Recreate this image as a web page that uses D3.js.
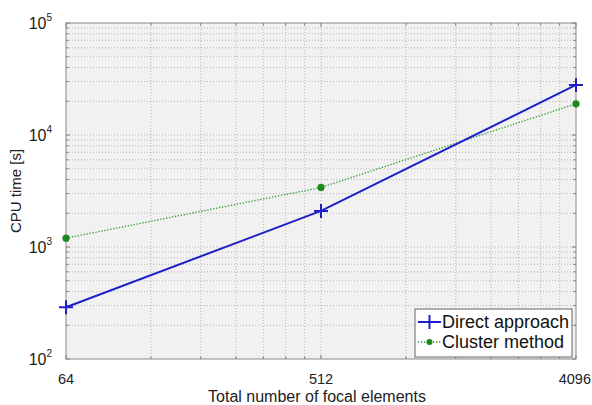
<!DOCTYPE html>
<html><head><meta charset="utf-8">
<script src="https://cdn.jsdelivr.net/npm/d3@7"></script>
<style>body{margin:0;background:#fff}svg{display:block}</style>
</head><body><svg id="c" width="592" height="405"></svg>
<script>
const xValues = [64, 512, 4096];
const directValues = [290, 2100, 28000];
const clusterValues = [1200, 3400, 19000];
const xTickLabels = ["64", "512", "4096"];
const yTickExps = [2, 3, 4, 5];
const seriesNames = ["Direct approach", "Cluster method"];

const svg = d3.select("#c");
const L = 66, R = 576, T = 23, B = 359;
const x = d3.scaleLog().base(2).domain([64, 4096]).range([L, R]);
const y = d3.scaleLog().domain([100, 100000]).range([B, T]);
const font = "Liberation Sans, Arial, sans-serif";

svg.append("rect").attr("x", L).attr("y", T).attr("width", R - L).attr("height", B - T).attr("fill", "#f1f1f1");

const xGrid = [];
[64, 512].forEach(m => { for (let k = 2; k <= 7; k++) xGrid.push(m * k); });
const xMajor = xValues;
const yMinor = [];
for (let e = 2; e < 5; e++) for (let k = 2; k <= 9; k++) yMinor.push(k * Math.pow(10, e));
const yMajor = yTickExps.map(e => Math.pow(10, e));

const g = svg.append("g");
xGrid.concat(xMajor.slice(1, -1)).forEach(v => {
  g.append("line").attr("x1", x(v)).attr("x2", x(v)).attr("y1", T).attr("y2", B)
    .attr("stroke", "#a8a8a8").attr("stroke-width", 0.8).attr("stroke-dasharray", "1,2");
});
yMinor.concat(yMajor.slice(1, -1)).forEach(v => {
  g.append("line").attr("x1", L).attr("x2", R).attr("y1", y(v)).attr("y2", y(v))
    .attr("stroke", "#a8a8a8").attr("stroke-width", 0.8).attr("stroke-dasharray", "1,2");
});
xGrid.concat(xMajor).forEach(v => {
  const len = xMajor.includes(v) ? 4 : 2.5;
  g.append("line").attr("x1", x(v)).attr("x2", x(v)).attr("y1", B).attr("y2", B - len).attr("stroke", "#777");
  g.append("line").attr("x1", x(v)).attr("x2", x(v)).attr("y1", T).attr("y2", T + len).attr("stroke", "#777");
});
yMinor.concat(yMajor).forEach(v => {
  const len = yMajor.includes(v) ? 4 : 2.5;
  g.append("line").attr("x1", L).attr("x2", L + len).attr("y1", y(v)).attr("y2", y(v)).attr("stroke", "#777");
  g.append("line").attr("x1", R).attr("x2", R - len).attr("y1", y(v)).attr("y2", y(v)).attr("stroke", "#777");
});
svg.append("rect").attr("x", L).attr("y", T).attr("width", R - L).attr("height", B - T)
  .attr("fill", "none").attr("stroke", "#8a8a8a").attr("stroke-width", 1);

xValues.forEach((v, i) => {
  const last = i === xValues.length - 1;
  svg.append("text").attr("x", last ? 591 : x(v)).attr("y", 384).attr("text-anchor", last ? "end" : "middle")
    .attr("font-family", font).attr("font-size", 14.5).attr("fill", "#222").text(xTickLabels[i]);
});
yTickExps.forEach(e => {
  const t = svg.append("text").attr("x", 52).attr("y", y(Math.pow(10, e)) + 6).attr("text-anchor", "end")
    .attr("font-family", font).attr("font-size", 16).attr("fill", "#222");
  t.append("tspan").text("10");
  t.append("tspan").attr("dy", -8).attr("font-size", 10).text(String(e));
});

svg.append("text").attr("x", 317).attr("y", 402).attr("text-anchor", "middle")
  .attr("font-family", font).attr("font-size", 16).attr("fill", "#222").text("Total number of focal elements");
svg.append("text").attr("transform", "translate(21,191) rotate(-90)").attr("text-anchor", "middle")
  .attr("font-family", font).attr("font-size", 15).attr("fill", "#222").text("CPU time [s]");

const line = d3.line().x(d => x(d[0])).y(d => y(d[1]));
const blue = "#1f1fc8", green = "#2a9a2a";
const cData = xValues.map((v, i) => [v, clusterValues[i]]);
const dData = xValues.map((v, i) => [v, directValues[i]]);
svg.append("path").attr("d", line(cData)).attr("fill", "none").attr("stroke", green)
  .attr("stroke-width", 1.3).attr("stroke-dasharray", "1.3,1.7");
cData.forEach(d => svg.append("circle").attr("cx", x(d[0])).attr("cy", y(d[1])).attr("r", 3.6).attr("fill", "#1a8a1a"));
svg.append("path").attr("d", line(dData)).attr("fill", "none").attr("stroke", blue).attr("stroke-width", 2);
function plus(px, py, s) {
  svg.append("path").attr("d", `M${px - s},${py}H${px + s}M${px},${py - s}V${py + s}`)
    .attr("stroke", blue).attr("stroke-width", 2).attr("fill", "none");
}
dData.forEach(d => plus(x(d[0]), y(d[1]), 7));

const lg = svg.append("g");
lg.append("rect").attr("x", 415).attr("y", 309).attr("width", 157).attr("height", 48)
  .attr("fill", "#fff").attr("stroke", "#666").attr("stroke-width", 1);
lg.append("line").attr("x1", 418).attr("x2", 441).attr("y1", 322).attr("y2", 322).attr("stroke", blue).attr("stroke-width", 2);
plus(429.5, 322, 7);
lg.append("line").attr("x1", 418).attr("x2", 441).attr("y1", 342).attr("y2", 342).attr("stroke", green)
  .attr("stroke-width", 1.3).attr("stroke-dasharray", "1.3,1.7");
lg.append("circle").attr("cx", 429.5).attr("cy", 342).attr("r", 3).attr("fill", "#1a8a1a");
seriesNames.forEach((n, i) => {
  lg.append("text").attr("x", 442).attr("y", 328 + i * 20).attr("font-family", font).attr("font-size", 18)
    .attr("fill", "#111").text(n);
});
</script></body></html>
